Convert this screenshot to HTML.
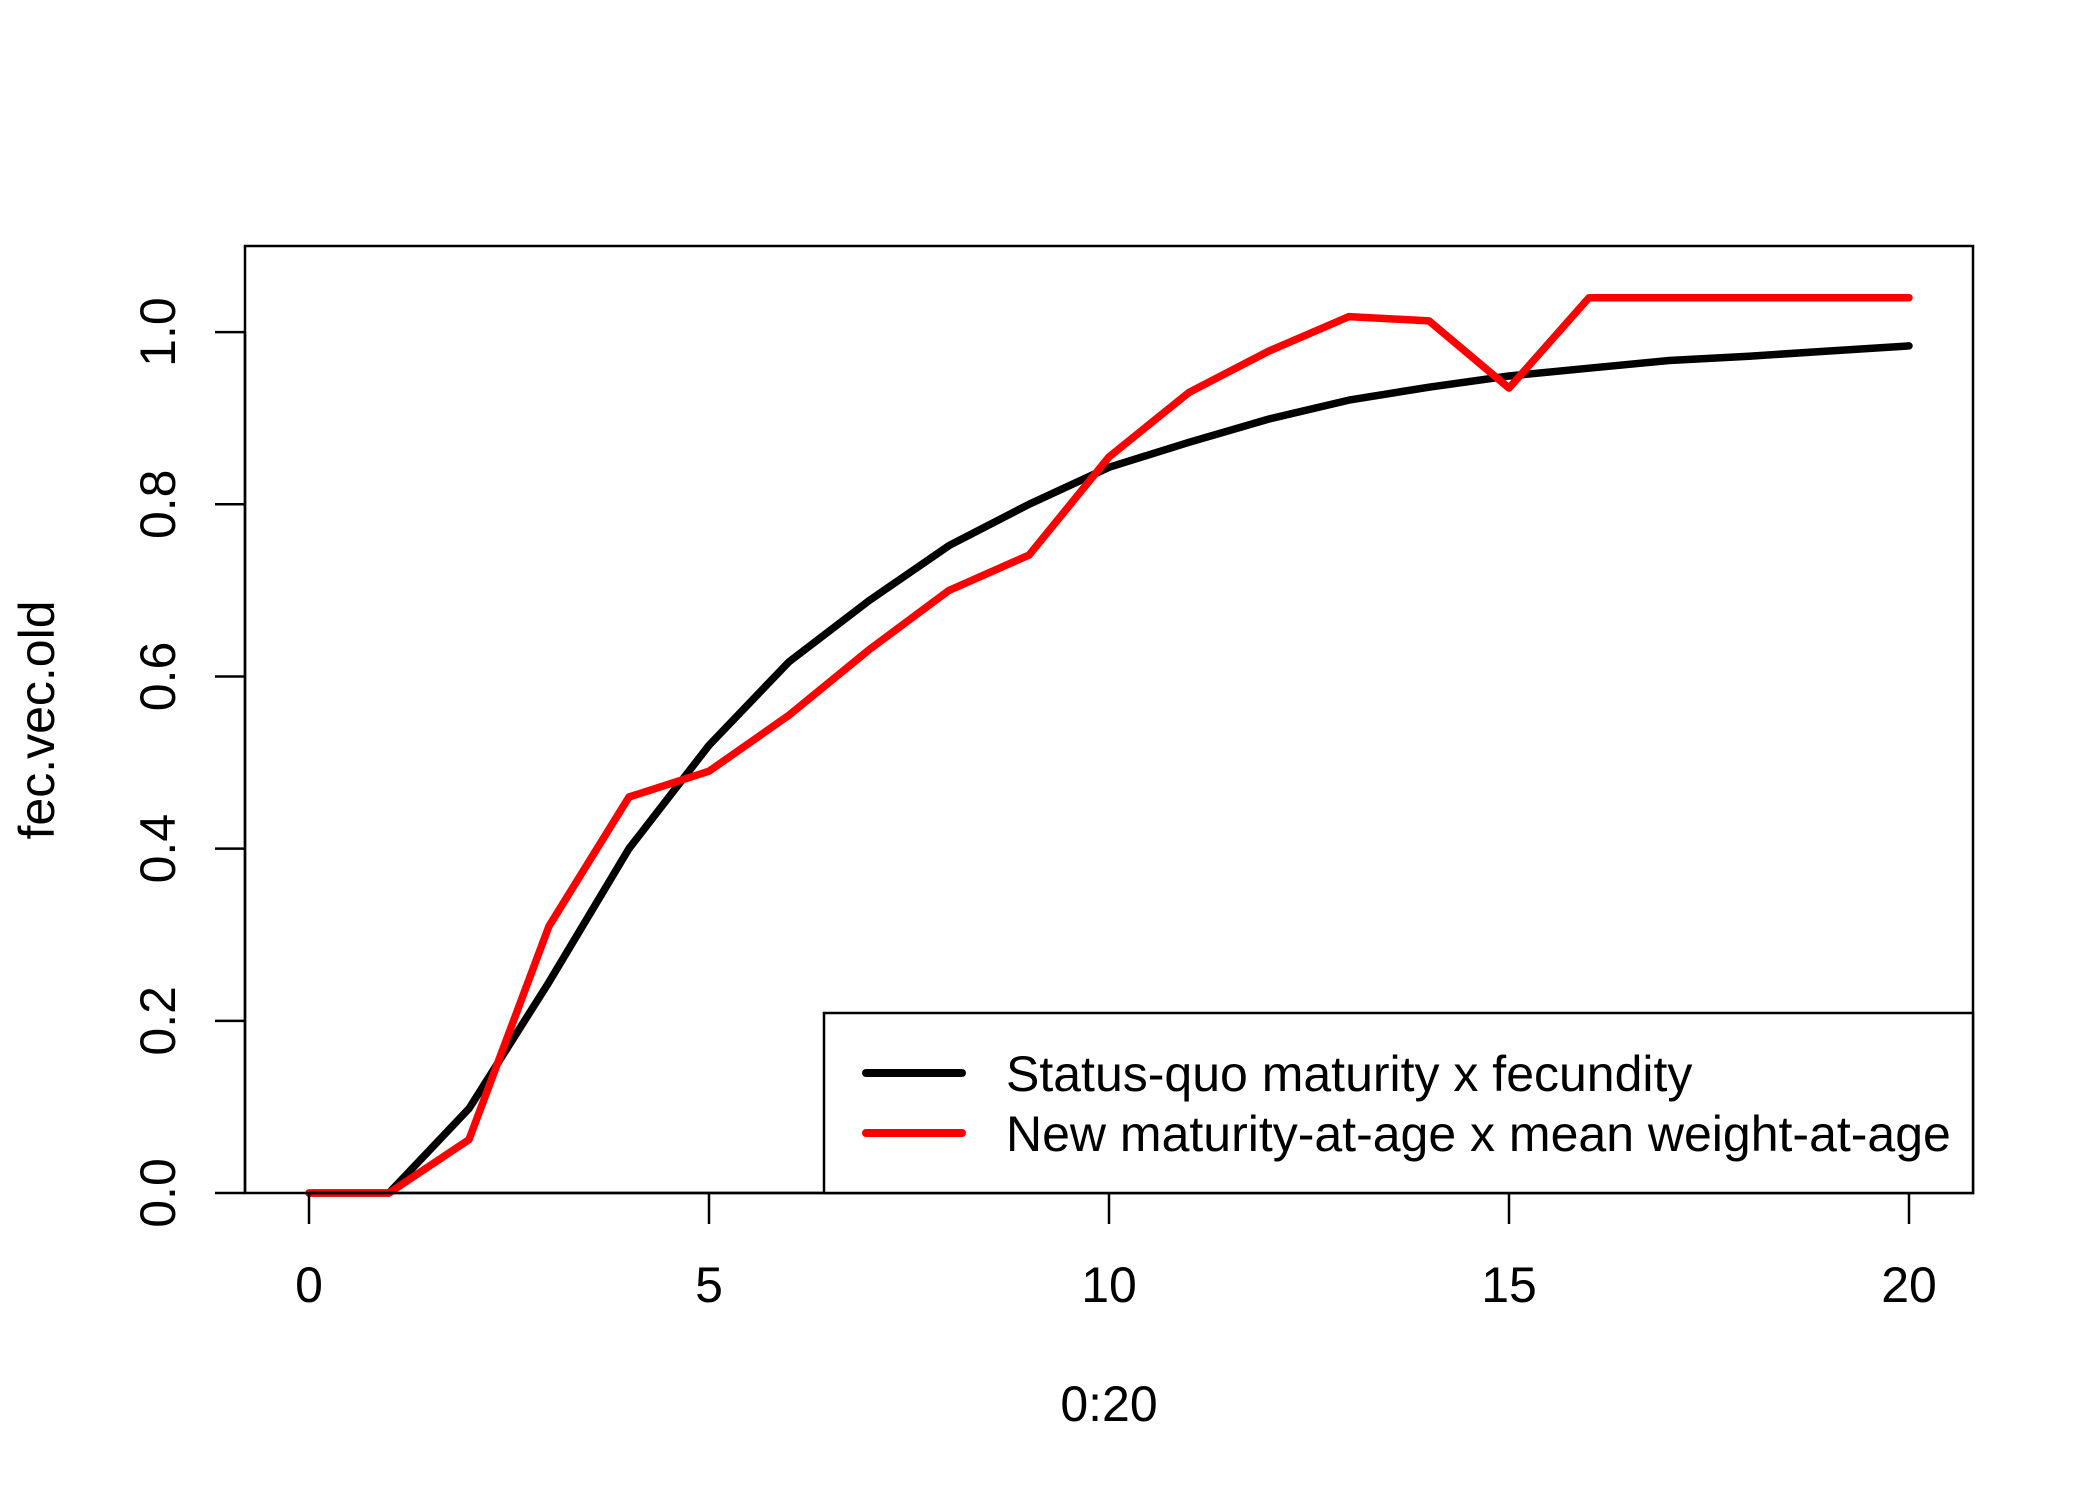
<!DOCTYPE html>
<html><head><meta charset="utf-8"><style>
html,body{margin:0;padding:0;background:#fff;}
svg{display:block;font-family:"Liberation Sans",Arial,sans-serif;}
</style></head><body>
<svg id="chart" width="2100" height="1500" viewBox="0 0 2100 1500" xmlns="http://www.w3.org/2000/svg">
<rect x="0" y="0" width="2100" height="1500" fill="#fff"/>
<g id="marks"></g>
<g id="axes"></g>
<rect x="245" y="246" width="1728" height="947" fill="none" stroke="#000" stroke-width="2.5"/>
<g>
<rect x="824" y="1013" width="1149" height="180" fill="#fff" stroke="#000" stroke-width="2.5"/>
<line x1="866" y1="1073" x2="962" y2="1073" stroke="#000" stroke-width="8" stroke-linecap="round"/>
<line x1="866" y1="1133" x2="962" y2="1133" stroke="#f00" stroke-width="8" stroke-linecap="round"/>
<text x="1006" y="1091" font-size="50">Status-quo maturity x fecundity</text>
<text x="1006" y="1151" font-size="50">New maturity-at-age x mean weight-at-age</text>
</g>
<text x="1109" y="1421" font-size="50" text-anchor="middle">0:20</text>
<text transform="translate(54,720) rotate(-90)" font-size="50" text-anchor="middle">fec.vec.old</text>
</svg>
<script>
const ages = [0,1,2,3,4,5,6,7,8,9,10,11,12,13,14,15,16,17,18,19,20];
const statusQuo = [0,0,0.098,0.245,0.40,0.52,0.617,0.688,0.752,0.80,0.843,0.872,0.899,0.921,0.936,0.949,0.958,0.967,0.972,0.978,0.984];
const newMat = [0,0,0.062,0.31,0.46,0.49,0.555,0.631,0.70,0.741,0.855,0.93,0.978,1.018,1.013,0.935,1.04,1.04,1.04,1.04,1.04];
const xTicks = [0,5,10,15,20];
const yTicks = [0,0.2,0.4,0.6,0.8,1.0];
const yTickLabels = ["0.0","0.2","0.4","0.6","0.8","1.0"];

const NS = "http://www.w3.org/2000/svg";
const X0 = 245, X1 = 1973, Y0 = 1193, Y1 = 246;
const xmin = -0.8, xmax = 20.8, ymin = 0, ymax = 1.1;
function sx(v){ return X0 + (v - xmin) / (xmax - xmin) * (X1 - X0); }
function sy(v){ return Y0 - (v - ymin) / (ymax - ymin) * (Y0 - Y1); }
function mk(tag, attrs, parent){
  const e = document.createElementNS(NS, tag);
  for (const k in attrs) e.setAttribute(k, attrs[k]);
  parent.appendChild(e);
  return e;
}
const marks = document.getElementById('marks');
const axes = document.getElementById('axes');

function drawSeries(vals, color, name){
  const pts = ages.map((a,i)=> sx(a).toFixed(1)+','+sy(vals[i]).toFixed(1)).join(' ');
  const pl = mk('polyline', {points: pts, fill:'none', stroke: color, 'stroke-width': 7.5, 'stroke-linejoin':'round', 'stroke-linecap':'round'}, marks);
  
  
}
drawSeries(statusQuo, '#000', 'series-status-quo');
drawSeries(newMat, '#f00', 'series-new-maturity');

const xl = mk('line', {x1: sx(xTicks[0]), y1: Y0, x2: sx(xTicks[xTicks.length-1]), y2: Y0, stroke:'#000','stroke-width':2.5}, axes);


xTicks.forEach(t=>{
  const tk = mk('line', {x1: sx(t), y1: Y0, x2: sx(t), y2: Y0+31, stroke:'#000','stroke-width':2.5}, axes);
  
  
  const tx = mk('text', {x: sx(t), y: 1302, 'font-size': 50, 'text-anchor':'middle'}, axes);
  tx.textContent = String(t);
  
  
});
const yl = mk('line', {x1: X0, y1: sy(yTicks[0]), x2: X0, y2: sy(yTicks[yTicks.length-1]), stroke:'#000','stroke-width':2.5}, axes);


yTicks.forEach((t,i)=>{
  const tk = mk('line', {x1: X0-30, y1: sy(t), x2: X0, y2: sy(t), stroke:'#000','stroke-width':2.5}, axes);
  
  
  const tx = mk('text', {transform: 'translate(175,'+sy(t)+') rotate(-90)', 'font-size': 50, 'text-anchor':'middle'}, axes);
  tx.textContent = yTickLabels[i];
  
  
});
</script>
</body></html>
